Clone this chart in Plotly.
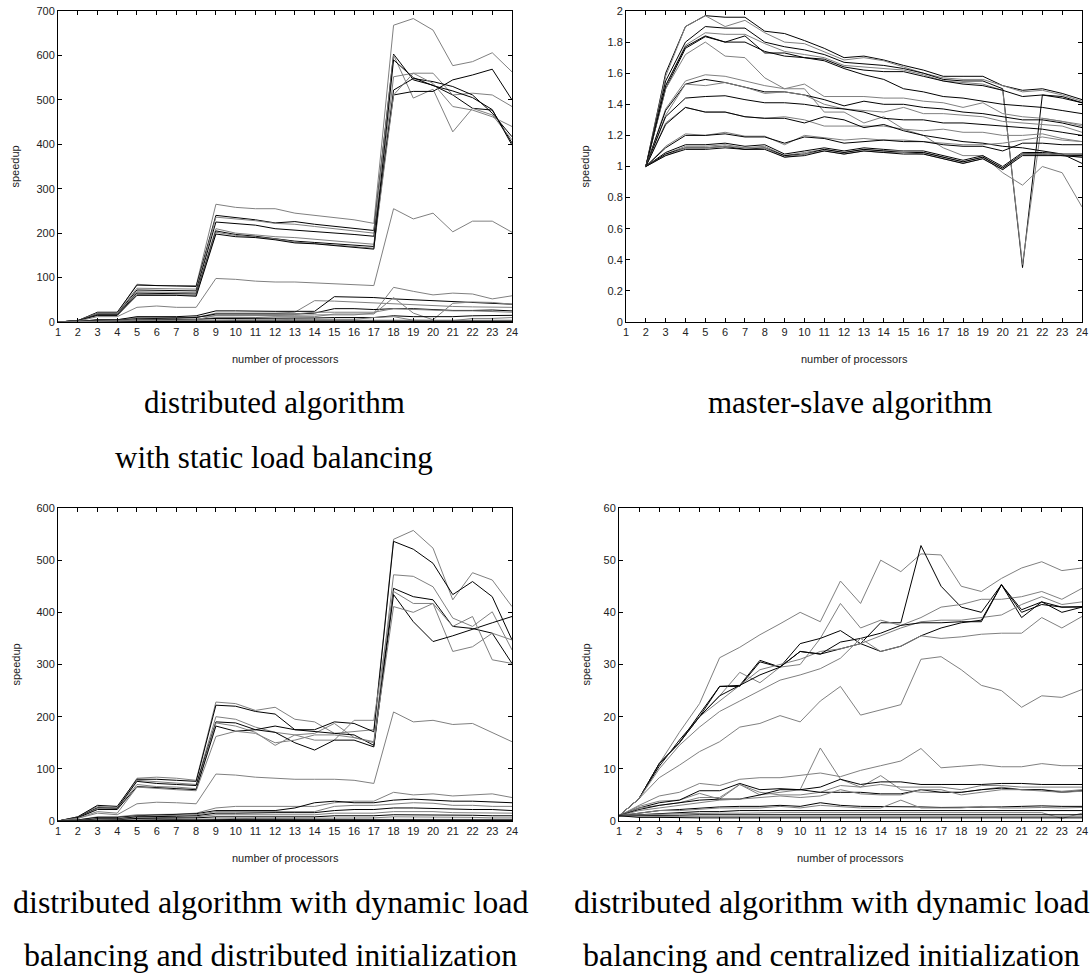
import plotly.graph_objects as go

W, H = 1090, 973

# ---------------- data ----------------
PROCS = list(range(1, 25))
PROCS_MS = list(range(2, 25))
X_TICKS = list(range(1, 25))
X_TICK_LABELS = [str(v) for v in X_TICKS]

# distributed algorithm with static load balancing (top-left)
TL_T1 = [0, 3, 20, 20, 85, 82, 82, 82, 265, 258, 255, 255, 245, 240, 235, 230, 222, 668, 683, 657, 577, 586, 606, 563]
TL_T2 = [0, 3, 22, 22, 83, 82, 82, 80, 240, 235, 230, 223, 226, 220, 215, 210, 206, 603, 545, 533, 511, 481, 477, 403]
TL_T3 = [0, 3, 20, 20, 76, 75, 75, 74, 236, 232, 228, 222, 220, 215, 210, 205, 200, 601, 504, 524, 428, 481, 466, 410]
TL_T4 = [0, 3, 18, 18, 72, 71, 71, 70, 225, 222, 218, 210, 207, 203, 200, 197, 193, 511, 519, 519, 545, 556, 569, 500]
TL_T5 = [0, 3, 18, 18, 68, 67, 67, 66, 210, 200, 196, 192, 190, 186, 182, 178, 175, 552, 560, 560, 511, 515, 511, 485]
TL_T6 = [0, 3, 16, 16, 65, 64, 64, 63, 205, 197, 193, 188, 182, 179, 176, 172, 170, 522, 548, 541, 530, 511, 470, 417]
TL_T7 = [0, 3, 15, 15, 62, 61, 61, 60, 202, 195, 191, 187, 180, 177, 174, 170, 166, 511, 560, 537, 485, 477, 462, 440]
TL_T8 = [0, 3, 15, 15, 60, 60, 60, 58, 198, 192, 190, 185, 178, 176, 172, 168, 164, 590, 550, 532, 520, 505, 478, 398]
TL_H = [0, 2, 12, 12, 33, 36, 33, 33, 98, 96, 92, 90, 90, 88, 86, 84, 82, 255, 232, 245, 203, 227, 227, 202]
TL_L1 = [0, 1, 5, 5, 10, 10, 10, 10, 20, 20, 20, 20, 22, 48, 47, 45, 43, 40, 38, 36, 35, 34, 34, 33]
TL_L2 = [0, 1, 5, 5, 12, 12, 12, 14, 25, 25, 24, 24, 24, 24, 57, 56, 55, 52, 50, 48, 45, 44, 42, 40]
TL_L3 = [0, 1, 4, 4, 8, 8, 9, 12, 14, 14, 14, 14, 15, 16, 16, 16, 20, 78, 69, 61, 65, 63, 52, 59]
TL_L4 = [0, 1, 4, 4, 7, 8, 9, 10, 18, 18, 18, 18, 18, 20, 30, 30, 28, 30, 30, 28, 26, 26, 27, 25]
TL_L5 = [0, 1, 3, 3, 6, 6, 6, 6, 10, 10, 10, 12, 12, 12, 18, 18, 18, 55, 20, 5, 42, 45, 44, 40]
TL_L6 = [0, 1, 3, 3, 5, 5, 6, 6, 8, 8, 8, 8, 9, 9, 10, 10, 10, 14, 12, 12, 12, 14, 15, 15]
TL_L7 = [0, 1, 2, 2, 4, 4, 4, 4, 5, 5, 5, 5, 6, 6, 6, 6, 10, 12, 4, 4, 3, 8, 8, 10]
TL_L8 = [0, 0.5, 1, 1, 2, 2, 2, 2, 3, 3, 3, 3, 3, 3, 3, 3, 3, 3, 3, 3, 3, 3, 3, 3]
TL_L9 = [0, 0.5, 1.5, 1.5, 3, 3, 3, 3, 4, 4, 4, 4, 4, 4, 4, 4, 4, 4, 4, 4, 4, 4, 4, 4]
TL_L10 = [0, 0.5, 1, 1, 1, 1, 1, 1, 1, 1, 1, 1, 1, 1, 1, 1, 1, 1, 1, 1, 1, 1, 1, 1]
TL_L11 = [0, 1, 2, 2, 4, 4, 4, 5, 15, 15, 15, 15, 18, 22, 22, 22, 22, 30, 28, 26, 25, 25, 24, 22]
TL_SERIES = [TL_T1, TL_T2, TL_T3, TL_T4, TL_T5, TL_T6, TL_T7, TL_T8, TL_H,
             TL_L1, TL_L2, TL_L3, TL_L4, TL_L5, TL_L6, TL_L7, TL_L8, TL_L9, TL_L10, TL_L11]
TL_Y_TICKS = [0, 100, 200, 300, 400, 500, 600, 700]
TL_Y_LABELS = ["0", "100", "200", "300", "400", "500", "600", "700"]

# master-slave algorithm (top-right), x = 2..24
TR_A1 = [1, 1.6, 1.9, 1.97, 1.96, 1.96, 1.87, 1.855, 1.81, 1.76, 1.70, 1.71, 1.685, 1.65, 1.62, 1.58, 1.58, 1.58, 1.52, 1.49, 1.50, 1.47, 1.43]
TR_A2 = [1, 1.58, 1.9, 1.97, 1.90, 1.94, 1.86, 1.80, 1.79, 1.74, 1.685, 1.70, 1.68, 1.64, 1.60, 1.57, 1.56, 1.56, 1.52, 1.48, 1.49, 1.46, 1.42]
TR_A3 = [1, 1.55, 1.80, 1.90, 1.89, 1.89, 1.80, 1.77, 1.75, 1.72, 1.67, 1.66, 1.65, 1.63, 1.60, 1.56, 1.55, 1.55, 1.50, 0.35, 1.46, 1.45, 1.41]
TR_A4 = [1, 1.52, 1.78, 1.86, 1.85, 1.85, 1.79, 1.74, 1.72, 1.70, 1.65, 1.64, 1.63, 1.62, 1.59, 1.55, 1.54, 1.53, 1.49, 0.37, 1.31, 1.29, 1.26]
TR_A5 = [1, 1.5, 1.76, 1.835, 1.80, 1.84, 1.73, 1.73, 1.70, 1.69, 1.64, 1.62, 1.61, 1.61, 1.58, 1.55, 1.53, 1.52, 1.49, 1.45, 1.46, 1.44, 1.41]
TR_A6 = [1, 1.5, 1.72, 1.80, 1.71, 1.70, 1.57, 1.50, 1.50, 1.35, 1.35, 1.28, 1.32, 1.24, 1.20, 1.12, 1.07, 1.07, 0.96, 0.88, 1.0, 0.96, 0.74]
TR_A7 = [1, 1.52, 1.77, 1.84, 1.80, 1.80, 1.74, 1.71, 1.70, 1.68, 1.63, 1.59, 1.56, 1.50, 1.48, 1.45, 1.44, 1.42, 1.40, 1.39, 1.38, 1.36, 1.34]
TR_M1 = [1, 1.37, 1.55, 1.59, 1.58, 1.55, 1.52, 1.50, 1.53, 1.45, 1.45, 1.45, 1.44, 1.44, 1.42, 1.41, 1.38, 1.41, 1.34, 1.32, 1.31, 1.29, 1.27]
TR_M2 = [1, 1.36, 1.53, 1.56, 1.54, 1.51, 1.48, 1.48, 1.46, 1.43, 1.39, 1.42, 1.40, 1.40, 1.38, 1.37, 1.35, 1.34, 1.32, 1.30, 1.30, 1.28, 1.25]
TR_M3 = [1, 1.33, 1.53, 1.52, 1.54, 1.51, 1.47, 1.48, 1.46, 1.40, 1.37, 1.36, 1.35, 1.38, 1.34, 1.34, 1.33, 1.32, 1.29, 1.28, 1.27, 1.26, 1.22]
TR_M4 = [1, 1.32, 1.44, 1.45, 1.455, 1.43, 1.41, 1.41, 1.40, 1.38, 1.37, 1.35, 1.31, 1.30, 1.30, 1.28, 1.28, 1.27, 1.26, 1.25, 1.24, 1.22, 1.20]
TR_M5 = [1, 1.28, 1.38, 1.35, 1.35, 1.32, 1.31, 1.32, 1.30, 1.26, 1.26, 1.26, 1.26, 1.24, 1.23, 1.24, 1.22, 1.22, 1.20, 1.20, 1.21, 1.18, 1.16]
TR_M6 = [1, 1.27, 1.38, 1.35, 1.35, 1.32, 1.31, 1.31, 1.28, 1.32, 1.30, 1.25, 1.27, 1.23, 1.20, 1.18, 1.16, 1.15, 1.13, 1.12, 1.10, 1.08, 1.02]
TR_N1 = [1, 1.13, 1.21, 1.20, 1.22, 1.195, 1.195, 1.14, 1.20, 1.185, 1.17, 1.18, 1.17, 1.17, 1.16, 1.15, 1.14, 1.14, 1.15, 1.17, 1.19, 1.17, 1.16]
TR_N2 = [1, 1.12, 1.20, 1.20, 1.21, 1.19, 1.19, 1.15, 1.19, 1.18, 1.15, 1.16, 1.17, 1.16, 1.16, 1.14, 1.13, 1.13, 1.10, 1.15, 1.15, 1.14, 1.14]
TR_B1 = [1, 1.09, 1.14, 1.14, 1.15, 1.13, 1.14, 1.08, 1.10, 1.12, 1.10, 1.12, 1.11, 1.10, 1.10, 1.07, 1.04, 1.07, 1.00, 1.09, 1.09, 1.08, 1.08]
TR_B2 = [1, 1.08, 1.13, 1.13, 1.14, 1.12, 1.13, 1.07, 1.09, 1.11, 1.09, 1.11, 1.10, 1.10, 1.09, 1.06, 1.03, 1.06, 0.99, 1.085, 1.08, 1.08, 1.07]
TR_B3 = [1, 1.08, 1.12, 1.12, 1.13, 1.11, 1.12, 1.07, 1.08, 1.11, 1.09, 1.11, 1.10, 1.09, 1.09, 1.06, 1.03, 1.06, 0.99, 1.08, 1.08, 1.07, 1.07]
TR_B4 = [1, 1.07, 1.12, 1.12, 1.13, 1.12, 1.12, 1.06, 1.08, 1.10, 1.08, 1.10, 1.09, 1.09, 1.08, 1.05, 1.02, 1.05, 0.98, 1.08, 1.08, 1.07, 1.06]
TR_B5 = [1, 1.07, 1.11, 1.11, 1.12, 1.11, 1.11, 1.06, 1.07, 1.10, 1.08, 1.10, 1.09, 1.08, 1.08, 1.05, 1.02, 1.05, 0.98, 1.07, 1.07, 1.07, 1.06]
TR_SERIES = [TR_A1, TR_A2, TR_A3, TR_A4, TR_A5, TR_A6, TR_A7, TR_M1, TR_M2, TR_M3, TR_M4,
             TR_M5, TR_M6, TR_N1, TR_N2, TR_B1, TR_B2, TR_B3, TR_B4, TR_B5]
TR_Y_TICKS = [0, 0.2, 0.4, 0.6, 0.8, 1.0, 1.2, 1.4, 1.6, 1.8, 2.0]
TR_Y_LABELS = ["0", "0.2", "0.4", "0.6", "0.8", "1", "1.2", "1.4", "1.6", "1.8", "2"]

# dynamic load balancing, distributed initialization (bottom-left)
BL_D1 = [0, 8, 28, 25, 82, 84, 82, 78, 228, 225, 212, 218, 195, 190, 168, 172, 175, 540, 557, 523, 424, 476, 462, 411]
BL_D2 = [0, 8, 30, 28, 80, 80, 78, 76, 222, 220, 210, 205, 175, 175, 190, 187, 171, 536, 521, 494, 434, 459, 430, 347]
BL_D3 = [0, 7, 26, 25, 78, 75, 72, 70, 200, 195, 180, 170, 165, 168, 187, 160, 152, 472, 469, 449, 389, 373, 401, 328]
BL_D4 = [0, 7, 25, 24, 76, 72, 70, 68, 190, 188, 175, 182, 175, 171, 168, 165, 145, 446, 430, 424, 373, 369, 360, 302]
BL_D5 = [0, 6, 24, 23, 70, 66, 65, 62, 188, 182, 170, 145, 165, 155, 155, 193, 193, 440, 417, 417, 325, 334, 360, 347]
BL_D6 = [0, 6, 22, 22, 66, 64, 62, 60, 182, 172, 175, 170, 150, 136, 155, 155, 142, 434, 382, 344, 355, 368, 380, 392]
BL_D7 = [0, 5, 18, 15, 65, 62, 60, 58, 162, 172, 168, 150, 155, 165, 165, 160, 150, 411, 400, 417, 373, 392, 309, 302]
BL_D8 = [0, 5, 15, 12, 33, 36, 35, 33, 90, 88, 84, 82, 80, 80, 80, 78, 72, 209, 190, 193, 185, 187, 170, 152]
BL_E1 = [0, 2, 8, 8, 12, 12, 13, 15, 25, 28, 28, 28, 28, 28, 35, 38, 38, 55, 50, 52, 48, 50, 52, 45]
BL_E2 = [0, 2, 7, 7, 10, 11, 12, 14, 20, 20, 20, 20, 25, 35, 38, 35, 35, 40, 42, 40, 38, 38, 36, 35]
BL_E3 = [0, 1, 5, 5, 9, 10, 10, 12, 18, 18, 18, 18, 18, 18, 28, 30, 30, 32, 35, 34, 30, 30, 28, 28]
BL_E4 = [0, 1, 4, 4, 8, 8, 9, 10, 15, 15, 16, 16, 16, 16, 20, 22, 22, 25, 25, 24, 22, 22, 22, 20]
BL_E5 = [0, 1, 3, 3, 6, 6, 7, 8, 12, 12, 12, 12, 12, 12, 15, 15, 15, 18, 18, 18, 16, 16, 15, 15]
BL_E6 = [0, 1, 2, 2, 5, 5, 5, 6, 8, 8, 8, 8, 8, 8, 10, 10, 10, 12, 12, 11, 11, 11, 10, 10]
BL_E7 = [0, 0.5, 1.5, 1.5, 3, 3, 3, 4, 5, 5, 5, 5, 5, 5, 6, 6, 6, 8, 8, 7, 7, 7, 6, 6]
BL_E8 = [0, 0.5, 1, 1, 2, 2, 2, 2, 3, 3, 3, 3, 3, 3, 3, 3, 3, 4, 4, 4, 4, 4, 3, 3]
BL_E9 = [0, 0.5, 1, 1, 1, 1, 1, 1, 2, 2, 2, 2, 2, 2, 2, 2, 2, 2, 2, 2, 2, 2, 2, 2]
BL_E10 = [0, 0.5, 1, 1, 1, 1, 1, 1, 1, 1, 1, 1, 1, 1, 1, 1, 1, 1, 1, 1, 1, 1, 1, 1]
BL_SERIES = [BL_D1, BL_D2, BL_D3, BL_D4, BL_D5, BL_D6, BL_D7, BL_D8, BL_E1, BL_E2,
             BL_E3, BL_E4, BL_E5, BL_E6, BL_E7, BL_E8, BL_E9, BL_E10]
BL_Y_TICKS = [0, 100, 200, 300, 400, 500, 600]
BL_Y_LABELS = ["0", "100", "200", "300", "400", "500", "600"]

# dynamic load balancing, centralized initialization (bottom-right)
BR_R1 = [1, 4.3, 11, 17, 22.5, 31.3, 33.3, 35.7, 37.8, 40, 38.2, 46, 41.7, 50, 47.8, 51.2, 51, 45, 44, 46.5, 48.5, 49.7, 48, 48.5]
BR_R2 = [1, 4.3, 10.5, 15.5, 20, 25.8, 25.8, 30.5, 29.5, 32.5, 32, 33, 34, 38, 38, 52.8, 45, 41, 40, 45.3, 40.5, 42, 41, 41]
BR_R3 = [1, 4.3, 11, 15, 20, 24, 28.5, 26.5, 29.5, 30, 35, 41.7, 37, 38.5, 37.5, 39, 41, 41.5, 42.5, 42.5, 43, 44, 42.5, 44.6]
BR_R4 = [1, 4.3, 11, 15, 20.5, 25.8, 26, 30.8, 29.5, 34, 35, 36.5, 34, 32.5, 33.5, 35.5, 37, 38, 38.5, 45.3, 39, 42, 40, 41]
BR_R5 = [1, 4.3, 11, 15, 20, 23, 26, 29, 30, 31, 32.5, 33, 34, 35.5, 37, 38.2, 38.5, 38.5, 39, 39.5, 41.5, 43, 41.5, 42]
BR_R6 = [1, 4.3, 11, 15, 20, 24, 26, 28, 29.5, 32.5, 32, 34.3, 35, 36, 37.5, 38, 38, 38.2, 38.2, 45.3, 40, 41.5, 41, 41.1]
BR_R7 = [1, 4.3, 10, 14.5, 18, 21, 23, 25, 27, 28, 29.2, 31.2, 35, 32.5, 33.5, 35.5, 35, 35.3, 35.8, 36, 36, 39, 37, 39.2]
BR_R8 = [1, 4.3, 8.3, 10.7, 13.3, 15.2, 18, 18.7, 20.2, 19, 23, 25.8, 20.3, 21.3, 22.3, 31, 31.5, 29, 26, 25, 21.8, 24, 23.7, 25.2]
BR_Q1 = [1, 3, 4.8, 5.5, 7.2, 6.8, 8, 8.3, 8.3, 8.8, 9.2, 8.5, 9.7, 10.6, 11.5, 13.9, 10.2, 10.5, 10.8, 10.4, 10.4, 11, 10.6, 10.6]
BR_Q2 = [1, 2.8, 3.8, 4, 5.3, 4.2, 7, 5, 5.5, 6, 14, 8, 6.5, 8.7, 6, 5.5, 5.5, 5.5, 6, 6.5, 6, 6, 5.7, 6]
BR_Q3 = [1, 2.5, 3.5, 4, 5.8, 5.8, 7.2, 6, 6.2, 6, 6.5, 8, 7, 7.5, 7.5, 7, 7, 7, 7, 7.2, 7.2, 7, 7, 7]
BR_Q4 = [1, 2.5, 3, 3.5, 4.5, 4.5, 7, 5.5, 5, 5, 5.5, 6.8, 6.5, 7, 6.5, 6.5, 6.5, 6, 6.8, 6.8, 6.5, 6.5, 6.5, 6.5]
BR_Q5 = [1, 2.2, 3, 3.5, 4, 4.2, 4.2, 5, 6, 6, 5.5, 5.5, 5.5, 5.2, 5.2, 6, 5.5, 5.5, 6, 6.3, 6, 6, 5.5, 5.8]
BR_Q6 = [1, 2, 2.5, 3, 3.5, 4, 4.2, 4.5, 4.8, 4.5, 4.8, 6, 5.2, 5, 5, 6, 6, 5, 5.5, 6, 6, 5.8, 5.5, 5.7]
BR_Q7 = [1, 1.5, 2, 2.2, 2.5, 2.7, 2.8, 2.8, 3, 2.8, 3.5, 3, 2.8, 2.8, 2.8, 2.7, 2.6, 2.6, 2.7, 2.7, 2.8, 2.9, 2.8, 2.8]
BR_Q8 = [1, 1.5, 2, 2, 2.2, 2.5, 2.5, 2.5, 2.8, 2.5, 3, 2.8, 2.5, 2.5, 4, 2.5, 2.5, 2.5, 2.8, 2.5, 2.5, 2.6, 2.5, 2.6]
BR_Q9 = [1, 1.2, 1.5, 1.6, 1.8, 1.8, 2, 2, 2, 2, 2, 2, 2, 2, 2, 2, 2, 2, 2, 2, 2, 2, 2, 2]
BR_Q10 = [1, 1.2, 1.3, 1.4, 1.5, 1.5, 1.5, 1.6, 1.6, 1.6, 1.6, 1.6, 1.6, 1.6, 1.6, 1.6, 1.6, 1.6, 1.6, 1.6, 1.6, 1.6, 0.5, 1.5]
BR_Q11 = [1, 1, 1.1, 1.1, 1.2, 1.2, 1.2, 1.2, 1.2, 1.2, 1.2, 1.2, 1.2, 1.2, 1.2, 1.2, 1.2, 1.2, 1.2, 1.2, 1.2, 1.2, 1.2, 1.2]
BR_Q12 = [1, 0.9, 0.9, 0.9, 0.9, 0.9, 0.9, 0.9, 0.9, 0.9, 0.9, 0.9, 0.9, 0.9, 0.9, 0.9, 0.9, 0.9, 0.9, 0.9, 0.9, 0.9, 0.9, 0.9]
BR_Q13 = [1, 0.7, 0.7, 0.6, 0.6, 0.6, 0.6, 0.6, 0.6, 0.6, 0.6, 0.6, 0.6, 0.6, 0.6, 0.6, 0.6, 0.6, 0.6, 0.6, 0.6, 0.6, 0.6, 0.6]
BR_SERIES = [BR_R1, BR_R2, BR_R3, BR_R4, BR_R5, BR_R6, BR_R7, BR_R8, BR_Q1, BR_Q2, BR_Q3,
             BR_Q4, BR_Q5, BR_Q6, BR_Q7, BR_Q8, BR_Q9, BR_Q10, BR_Q11, BR_Q12, BR_Q13]
BR_Y_TICKS = [0, 10, 20, 30, 40, 50, 60]
BR_Y_LABELS = ["0", "10", "20", "30", "40", "50", "60"]

Y_TITLE = "speedup"
X_TITLE = "number of processors"
CAPTIONS_TL = ["distributed algorithm", "with static load balancing"]
CAPTIONS_TR = ["master-slave algorithm"]
CAPTIONS_BL = ["distributed algorithm with dynamic load", "balancing and distributed initialization"]
CAPTIONS_BR = ["distributed algorithm with dynamic load", "balancing and centralized initialization"]

# ---------------- styling ----------------
SHADE = {"k": "#000000", "g": "#808080"}
TL_SHADES = "gkgkgkgkg" + "gkgkgkgkgkg"
TR_SHADES = "kgkgkgk" + "gkgkgk" + "gk" + "kgkgk"
BL_SHADES = "gkgkgkgg" + "gkgkgkgkgk"
BR_SHADES = "gkgkgkgg" + "ggkgkgkgkgkgk"
TICK_FONT = dict(family="Liberation Sans Narrow, Liberation Sans, Arial", size=11, color="#222222")
SMALL_FONT = dict(family="Liberation Sans, Arial", size=11, color="#222222")
CAP_FAMILY = "Liberation Serif, Times New Roman"


def px_x(px):
    return px / W


def px_y(py):
    return 1 - py / H


# plot boxes in pixels: (left, right, top, bottom)
BOXES = {
    "1": (58, 512, 11, 322),
    "2": (626, 1082, 11, 322),
    "3": (58, 512, 508, 821),
    "4": (619, 1082, 508, 821),
}

fig = go.Figure()

panels = [
    ("1", PROCS, TL_SERIES, TL_SHADES, [0, 700], TL_Y_TICKS, TL_Y_LABELS),
    ("2", PROCS_MS, TR_SERIES, TR_SHADES, [0, 2], TR_Y_TICKS, TR_Y_LABELS),
    ("3", PROCS, BL_SERIES, BL_SHADES, [0, 600], BL_Y_TICKS, BL_Y_LABELS),
    ("4", PROCS, BR_SERIES, BR_SHADES, [0, 60], BR_Y_TICKS, BR_Y_LABELS),
]

layout_axes = {}
for key, xs, series, shades, yr, yt, yl in panels:
    xa = "x" if key == "1" else "x" + key
    ya = "y" if key == "1" else "y" + key
    for i, s in enumerate(series):
        fig.add_trace(go.Scatter(x=xs, y=s, mode="lines", xaxis=xa, yaxis=ya,
                                 line=dict(color=SHADE[shades[i % len(shades)]], width=1),
                                 hoverinfo="skip", showlegend=False))
    l, r, t, b = BOXES[key]
    axis_common = dict(showline=True, linecolor="#000000", linewidth=1, mirror="ticks",
                       ticks="inside", ticklen=4, tickcolor="#000000", showgrid=False,
                       zeroline=False, tickfont=TICK_FONT, automargin=False)
    layout_axes["xaxis" if key == "1" else "xaxis" + key] = dict(
        domain=[px_x(l), px_x(r)], range=[1, 24], tickmode="array",
        tickvals=X_TICKS, ticktext=X_TICK_LABELS, anchor=ya, **axis_common)
    layout_axes["yaxis" if key == "1" else "yaxis" + key] = dict(
        domain=[px_y(b), px_y(t)], range=yr, tickmode="array",
        tickvals=yt, ticktext=yl, anchor=xa, **axis_common)

annotations = []
# axis titles
for key, sx in (("1", 15), ("2", 585), ("3", 15), ("4", 585)):
    l, r, t, b = BOXES[key]
    annotations.append(dict(text=Y_TITLE, x=px_x(sx), y=px_y((t + b) / 2), xref="paper", yref="paper",
                            textangle=-90, showarrow=False, font=SMALL_FONT,
                            xanchor="center", yanchor="middle"))
    annotations.append(dict(text=X_TITLE, x=px_x((l + r) / 2), y=px_y(b + 37), xref="paper", yref="paper",
                            showarrow=False, font=SMALL_FONT, xanchor="center", yanchor="middle"))

# captions
for lines, cx, cys, fs in ((CAPTIONS_TL, 274, (402, 457), 31), (CAPTIONS_TR, 850, (402,), 31),
                           (CAPTIONS_BL, 270, (902, 955), 32), (CAPTIONS_BR, 831, (902, 955), 32)):
    for txt, cy in zip(lines, cys):
        annotations.append(dict(text=txt, x=px_x(cx), y=px_y(cy), xref="paper", yref="paper",
                                showarrow=False, font=dict(family=CAP_FAMILY, size=fs, color="#000000"),
                                xanchor="center", yanchor="middle"))

fig.update_layout(width=W, height=H, margin=dict(l=0, r=0, t=0, b=0),
                  paper_bgcolor="#ffffff", plot_bgcolor="#ffffff",
                  annotations=annotations, showlegend=False, **layout_axes)

fig.write_html("out.html")
